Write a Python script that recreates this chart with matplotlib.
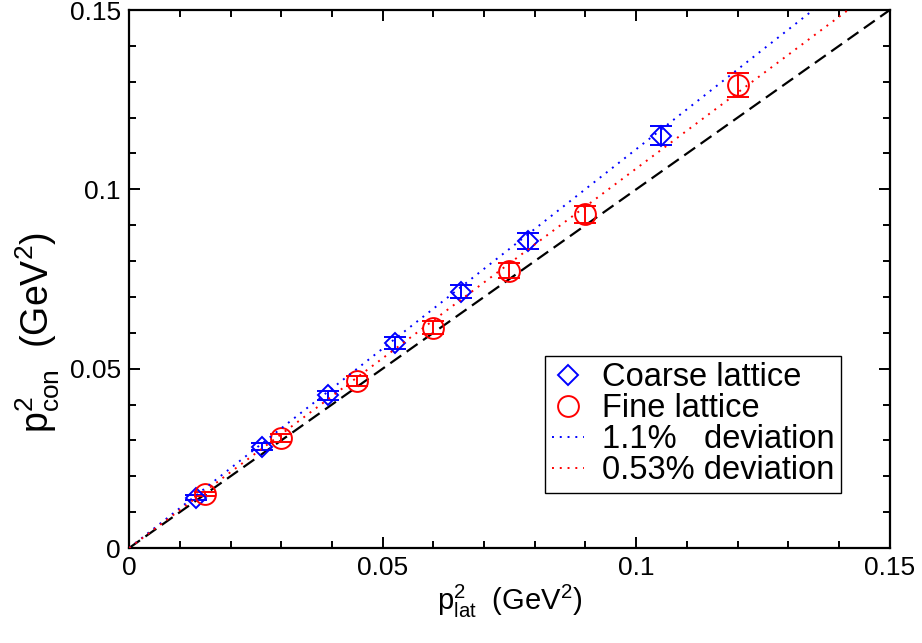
import numpy as np
import matplotlib
matplotlib.use("Agg")
import matplotlib.pyplot as plt
from matplotlib.lines import Line2D

plt.rcParams['font.family'] = ['Liberation Sans', 'DejaVu Sans']
plt.rcParams['mathtext.default'] = 'regular'

# data
coarse_x = [0.0131, 0.0262, 0.0393, 0.0524, 0.0655, 0.0786, 0.1048]
coarse_y = [0.0140, 0.0282, 0.0426, 0.0572, 0.0715, 0.0856, 0.1150]
coarse_err = [0.0007, 0.0010, 0.0013, 0.0016, 0.0019, 0.0022, 0.0027]

fine_x = [0.015, 0.030, 0.045, 0.060, 0.075, 0.090, 0.120]
fine_y = [0.0150, 0.0307, 0.0465, 0.0614, 0.0773, 0.0930, 0.1291]
fine_err = [0.0006, 0.0010, 0.0014, 0.0018, 0.0021, 0.0025, 0.0033]

slope_coarse = 1.112   # "1.1% deviation" line
slope_fine = 1.058     # "0.53% deviation" line

fig = plt.figure(figsize=(9.22, 6.43), dpi=100)
ax = fig.add_axes([0.140, 0.1477, 0.825, 0.8367])

xl = np.array([0.0, 0.15])
ax.plot(xl, xl, color='black', ls=(0, (6, 3)), lw=1.6, zorder=1)
ax.plot(xl, slope_coarse * xl, color='blue', ls=(0, (1, 3)), lw=1.4, zorder=3)
ax.plot(xl, slope_fine * xl, color='red', ls=(0, (1, 3)), lw=1.4, zorder=3)

ax.errorbar(coarse_x, coarse_y, yerr=coarse_err, fmt='D', ms=10.5, mfc='none',
            mec='blue', mew=1.4, ecolor='blue', elinewidth=1.4, capsize=8,
            capthick=1.4, zorder=2)
ax.errorbar(fine_x, fine_y, yerr=fine_err, fmt='o', ms=15, mfc='none',
            mec='red', mew=1.4, ecolor='red', elinewidth=1.4, capsize=8,
            capthick=1.4, zorder=2)

ax.set_xlim(0, 0.15)
ax.set_ylim(0, 0.15)
ax.set_xticks([0, 0.05, 0.1, 0.15])
ax.set_yticks([0, 0.05, 0.1, 0.15])
ax.set_xticklabels(['0', '0.05', '0.1', '0.15'])
ax.set_yticklabels(['0', '0.05', '0.1', '0.15'])
ax.set_xticks(np.arange(0, 0.151, 0.01), minor=True)
ax.set_yticks(np.arange(0, 0.151, 0.01), minor=True)
ax.tick_params(which='both', direction='in', top=True, right=True,
               labelsize=19, width=1.4)
ax.tick_params(which='major', length=8, pad=6)
ax.tick_params(which='minor', length=5)
for s in ax.spines.values():
    s.set_linewidth(1.6)

ax.set_xlabel(r'$p^2_{lat}$  (GeV$^2$)', fontsize=21, labelpad=2)
ax.set_ylabel(r'$p^2_{con}$  (GeV$^2$)', fontsize=27)
ax.yaxis.set_label_coords(-0.088, 0.40)

handles = [
    Line2D([], [], ls='none', marker='D', ms=10.5, mfc='none', mec='blue', mew=1.4),
    Line2D([], [], ls='none', marker='o', ms=15, mfc='none', mec='red', mew=1.4),
    Line2D([], [], color='blue', ls=(0, (1, 3)), lw=1.4),
    Line2D([], [], color='red', ls=(0, (1, 3)), lw=1.4),
]
labels = ['Coarse lattice', 'Fine lattice', '1.1%   deviation', '0.53% deviation']
leg = ax.legend(handles, labels,
                loc='upper left', bbox_to_anchor=(0.547, 0.357),
                borderaxespad=0, fontsize=23.5, handlelength=1.0,
                handletextpad=0.55, labelspacing=0.0, borderpad=0.2,
                fancybox=False, framealpha=1, edgecolor='black')
leg.get_frame().set_linewidth(1.0)

fig.savefig('out.png', dpi=100)
